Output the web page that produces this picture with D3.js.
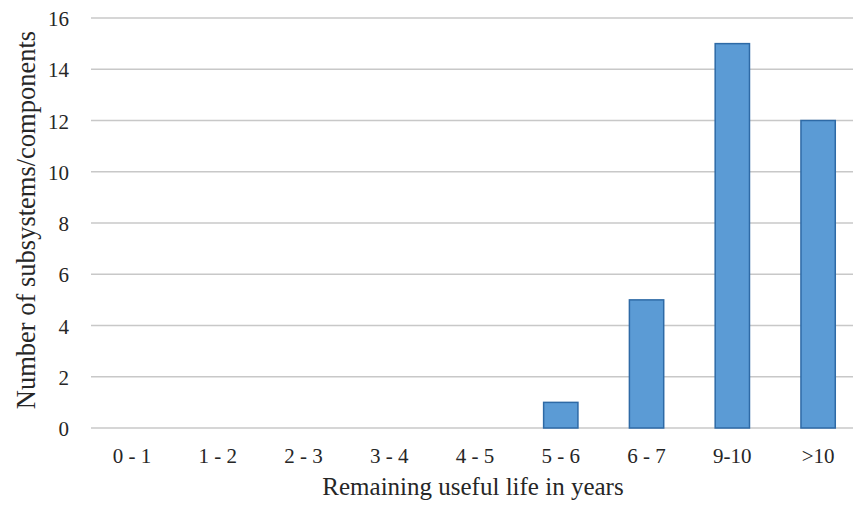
<!DOCTYPE html>
<html><head><meta charset="utf-8">
<script src="https://cdn.jsdelivr.net/npm/d3@7"></script>
<style>body{margin:0;background:#fff}svg{display:block}text{font-family:"Liberation Serif","Times New Roman",serif;fill:#262626}</style>
</head><body><svg id="c" width="853" height="510"></svg>
<script>
const categories = ["0 - 1","1 - 2","2 - 3","3 - 4","4 - 5","5 - 6","6 - 7","9-10",">10"];
const values = [0,0,0,0,0,1,5,15,12];
const yTicks = [0,2,4,6,8,10,12,14,16];

const svg = d3.select("#c");
const mLeft = 89, mRight = 861, mTop = 18, mBottom = 428;
const x = d3.scaleBand().domain(categories).range([mLeft, mRight]).paddingInner(0.6).paddingOuter(0.3);
const y = d3.scaleLinear().domain([0,16]).range([mBottom, mTop]);

const g = svg.append("g");
g.selectAll("line.grid").data(yTicks).join("line").attr("class","grid")
  .attr("x1", 91).attr("x2", 853).attr("y1", d=>y(d)).attr("y2", d=>y(d))
  .attr("stroke", "#c8c8c8").attr("stroke-width", 1.3);

g.selectAll("rect").data(values.map((v,i)=>({c:categories[i],v})).filter(d=>d.v>0)).join("rect")
  .attr("x", d=>x(d.c)).attr("width", x.bandwidth())
  .attr("y", d=>y(d.v)).attr("height", d=>y(0)-y(d.v))
  .attr("fill", "#5b9bd5").attr("stroke", "#2e6aa6").attr("stroke-width", 1.5);

const yAxis = d3.axisLeft(y).tickValues(yTicks).tickSize(0).tickPadding(0);
const ya = svg.append("g").attr("transform", "translate(69,1)").call(yAxis);
ya.select(".domain").remove();
ya.selectAll("text").attr("font-size", 21).attr("font-family","Liberation Serif").attr("fill","#262626");

const xAxis = d3.axisBottom(x).tickSize(0).tickPadding(0);
const xa = svg.append("g").attr("transform", "translate(0,448)").call(xAxis);
xa.select(".domain").remove();
xa.selectAll("text").attr("font-size", 21).attr("font-family","Liberation Serif").attr("fill","#262626");

svg.append("text").attr("x", 473).attr("y", 495).attr("text-anchor","middle")
  .attr("font-size", 25).text("Remaining useful life in years");
svg.append("text").attr("transform","translate(35,220) rotate(-90)").attr("text-anchor","middle")
  .attr("font-size", 26.5).text("Number of subsystems/components");
</script></body></html>
